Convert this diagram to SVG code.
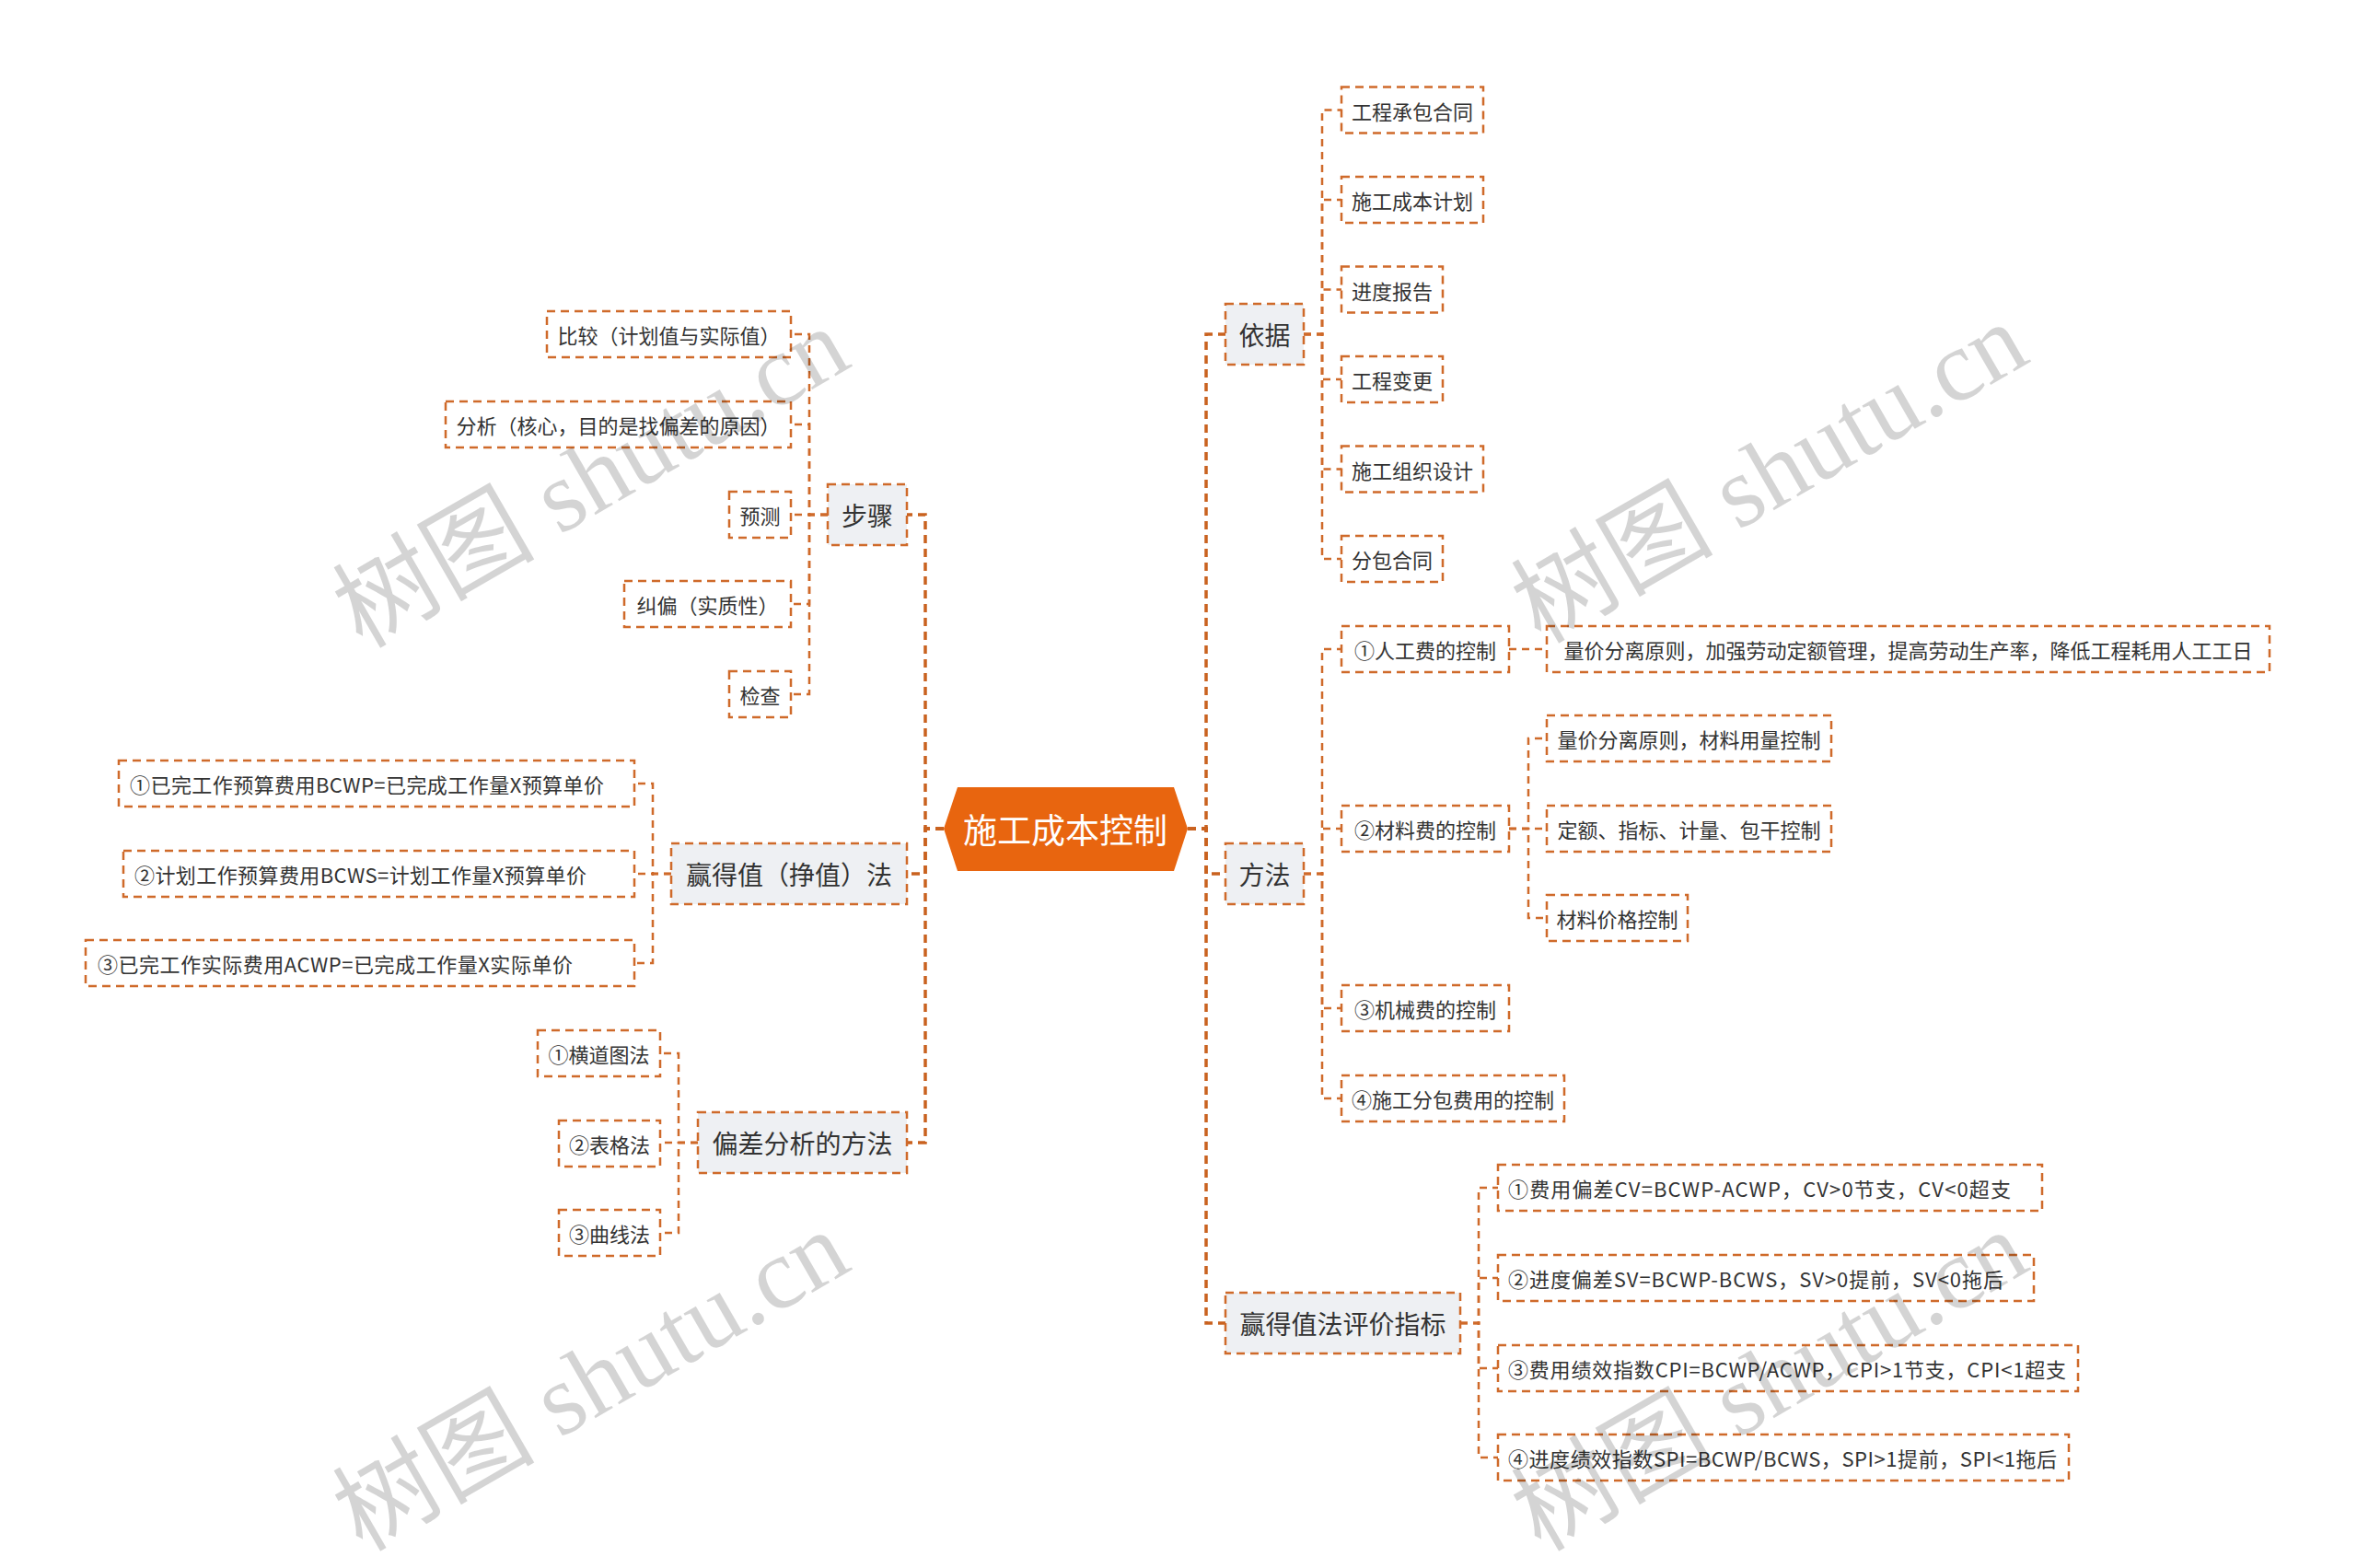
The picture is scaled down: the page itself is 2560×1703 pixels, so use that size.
<svg xmlns="http://www.w3.org/2000/svg" width="2560" height="1703" viewBox="0 0 2560 1703">
<style>
text{font-family:"Noto Sans CJK SC","Noto Sans",sans-serif;fill:#333333;text-anchor:middle;dominant-baseline:central}
text.f{text-anchor:start}
.l1 rect{fill:#EEF0F3;stroke:#CF6A2A;stroke-width:2.5;stroke-dasharray:9 6}
.l1 text{font-size:28px}
.l2 rect{fill:#FFFFFF;stroke:#CF6A2A;stroke-width:2.5;stroke-dasharray:9 6}
.l2 text{font-size:22px}
.conn path{fill:none;stroke:#CF6A2A;stroke-width:2.5;stroke-dasharray:8 6}
.conn path.main{stroke:#C9621F;stroke-width:3.5;stroke-dasharray:9 6}
.wm text{font-family:"Liberation Serif","Noto Sans CJK SC",serif;font-size:110px;fill:#000000;fill-opacity:0.17}
</style>
<rect width="2560" height="1703" fill="#FFFFFF"/>
<g id="connectors" class="conn">
<path class="main" d="M1025 900 H1005 V559 H985"/>
<path class="main" d="M1025 900 H1005 V949 H985"/>
<path class="main" d="M1025 900 H1005 V1241 H985"/>
<path class="main" d="M1290 900 H1310 V363 H1331"/>
<path class="main" d="M1290 900 H1310 V949 H1331"/>
<path class="main" d="M1290 900 H1310 V1437 H1331"/>
<path d="M899 559 H879 V363 H859"/>
<path d="M899 559 H879 V461 H859"/>
<path d="M899 559 H859"/>
<path d="M899 559 H879 V656 H859"/>
<path d="M899 559 H879 V754 H859"/>
<path d="M729 949 H709 V851 H689"/>
<path d="M729 949 H689"/>
<path d="M729 949 H709 V1046 H689"/>
<path d="M758 1241 H737 V1144 H717"/>
<path d="M758 1241 H717"/>
<path d="M758 1241 H737 V1339 H717"/>
<path d="M1416 363 H1436 V119.5 H1457"/>
<path d="M1416 363 H1436 V217 H1457"/>
<path d="M1416 363 H1436 V314.5 H1457"/>
<path d="M1416 363 H1436 V412 H1457"/>
<path d="M1416 363 H1436 V509.5 H1457"/>
<path d="M1416 363 H1436 V607 H1457"/>
<path d="M1416 949 H1436 V705 H1457"/>
<path d="M1416 949 H1436 V900 H1457"/>
<path d="M1416 949 H1436 V1095 H1457"/>
<path d="M1416 949 H1436 V1193 H1457"/>
<path d="M1639 705 H1680"/>
<path d="M1639 900 H1660 V802 H1680"/>
<path d="M1639 900 H1680"/>
<path d="M1639 900 H1660 V997 H1680"/>
<path d="M1586 1437 H1606 V1290 H1627"/>
<path d="M1586 1437 H1606 V1388 H1627"/>
<path d="M1586 1437 H1606 V1486 H1627"/>
<path d="M1586 1437 H1606 V1583 H1627"/>
</g>
<g id="root">
<polygon points="1025,900 1040,855 1275,855 1290,900 1275,946 1040,946" fill="#E8650F"/>
<text x="1157" y="900" style="font-size:37px;fill:#FFFFFF">施工成本控制</text>
</g>
<g id="n-buzhou" class="l1"><rect x="899" y="526" width="86" height="66"/><text x="942" y="559">步骤</text></g>
<g id="n-yingdezhi" class="l1"><rect x="729" y="916" width="256" height="66"/><text x="857" y="949">赢得值（挣值）法</text></g>
<g id="n-piancha" class="l1"><rect x="758" y="1208" width="227" height="66"/><text x="871.5" y="1241">偏差分析的方法</text></g>
<g id="n-yiju" class="l1"><rect x="1331" y="330" width="85" height="66"/><text x="1373.5" y="363">依据</text></g>
<g id="n-fangfa" class="l1"><rect x="1331" y="916" width="85" height="66"/><text x="1373.5" y="949">方法</text></g>
<g id="n-pingjia" class="l1"><rect x="1331" y="1404" width="255" height="66"/><text x="1458.5" y="1437">赢得值法评价指标</text></g>

<g id="n-bijiao" class="l2"><rect x="594" y="338" width="265" height="50"/><text x="726.5" y="363">比较（计划值与实际值）</text></g>
<g id="n-fenxi" class="l2"><rect x="484" y="436" width="375" height="50"/><text x="671.5" y="461">分析（核心，目的是找偏差的原因）</text></g>
<g id="n-yuce" class="l2"><rect x="792" y="534" width="67" height="50"/><text x="825.5" y="559">预测</text></g>
<g id="n-jiupian" class="l2"><rect x="678" y="631" width="181" height="50"/><text x="768.5" y="656">纠偏（实质性）</text></g>
<g id="n-jiancha" class="l2"><rect x="792" y="729" width="67" height="50"/><text x="825.5" y="754">检查</text></g>

<g id="n-bcwp" class="l2"><rect x="129" y="826" width="560" height="50"/><text class="f" x="141" y="851" textLength="515" lengthAdjust="spacing">①已完工作预算费用BCWP=已完成工作量X预算单价</text></g>
<g id="n-bcws" class="l2"><rect x="134" y="924" width="555" height="50"/><text class="f" x="146" y="949" textLength="491" lengthAdjust="spacing">②计划工作预算费用BCWS=计划工作量X预算单价</text></g>
<g id="n-acwp" class="l2"><rect x="93" y="1021" width="596" height="50"/><text class="f" x="106" y="1046" textLength="516" lengthAdjust="spacing">③已完工作实际费用ACWP=已完成工作量X实际单价</text></g>

<g id="n-hengdao" class="l2"><rect x="584" y="1119" width="133" height="50"/><text x="650.5" y="1144">①横道图法</text></g>
<g id="n-biaoge" class="l2"><rect x="607" y="1217" width="110" height="50"/><text x="662" y="1242">②表格法</text></g>
<g id="n-quxian" class="l2"><rect x="607" y="1314" width="110" height="50"/><text x="662" y="1339">③曲线法</text></g>

<g id="n-chengbao" class="l2"><rect x="1457" y="94.5" width="154" height="50"/><text x="1534" y="119.5">工程承包合同</text></g>
<g id="n-jihua" class="l2"><rect x="1457" y="192" width="154" height="50"/><text x="1534" y="217">施工成本计划</text></g>
<g id="n-jindu" class="l2"><rect x="1457" y="289.5" width="110" height="50"/><text x="1512" y="314.5">进度报告</text></g>
<g id="n-biangeng" class="l2"><rect x="1457" y="387" width="110" height="50"/><text x="1512" y="412">工程变更</text></g>
<g id="n-zuzhi" class="l2"><rect x="1457" y="484.5" width="154" height="50"/><text x="1534" y="509.5">施工组织设计</text></g>
<g id="n-fenbao" class="l2"><rect x="1457" y="582" width="110" height="50"/><text x="1512" y="607">分包合同</text></g>

<g id="n-rengong" class="l2"><rect x="1457" y="680" width="182" height="50"/><text x="1548" y="705">①人工费的控制</text></g>
<g id="n-cailiao" class="l2"><rect x="1457" y="875" width="182" height="50"/><text x="1548" y="900">②材料费的控制</text></g>
<g id="n-jixie" class="l2"><rect x="1457" y="1070" width="182" height="50"/><text x="1548" y="1095">③机械费的控制</text></g>
<g id="n-fenbaofei" class="l2"><rect x="1457" y="1168" width="242" height="50"/><text x="1578" y="1193">④施工分包费用的控制</text></g>

<g id="n-rengong-1" class="l2"><rect x="1680" y="680" width="785" height="50"/><text x="2072.5" y="705">量价分离原则，加强劳动定额管理，提高劳动生产率，降低工程耗用人工工日</text></g>
<g id="n-cailiao-1" class="l2"><rect x="1680" y="777" width="309" height="50"/><text x="1834.5" y="802">量价分离原则，材料用量控制</text></g>
<g id="n-cailiao-2" class="l2"><rect x="1680" y="875" width="309" height="50"/><text x="1834.5" y="900">定额、指标、计量、包干控制</text></g>
<g id="n-cailiao-3" class="l2"><rect x="1680" y="972" width="153" height="50"/><text x="1756.5" y="997">材料价格控制</text></g>

<g id="n-cv" class="l2"><rect x="1627" y="1265" width="591" height="50"/><text class="f" x="1638" y="1290" textLength="546" lengthAdjust="spacing">①费用偏差CV=BCWP-ACWP，CV&gt;0节支，CV&lt;0超支</text></g>
<g id="n-sv" class="l2"><rect x="1627" y="1363" width="582" height="50"/><text class="f" x="1638" y="1388" textLength="538" lengthAdjust="spacing">②进度偏差SV=BCWP-BCWS，SV&gt;0提前，SV&lt;0拖后</text></g>
<g id="n-cpi" class="l2"><rect x="1627" y="1461" width="630" height="50"/><text class="f" x="1638" y="1486" textLength="606" lengthAdjust="spacing">③费用绩效指数CPI=BCWP/ACWP，CPI&gt;1节支，CPI&lt;1超支</text></g>
<g id="n-spi" class="l2"><rect x="1627" y="1558" width="620" height="50"/><text class="f" x="1638" y="1583" textLength="596" lengthAdjust="spacing">④进度绩效指数SPI=BCWP/BCWS，SPI&gt;1提前，SPI&lt;1拖后</text></g>

<g id="watermarks" class="wm">
<text transform="translate(642,519) rotate(-30)">树图 shutu.cn</text>
<text transform="translate(1922,514) rotate(-30)">树图 shutu.cn</text>
<text transform="translate(642,1500) rotate(-30)">树图 shutu.cn</text>
<text transform="translate(1922,1500) rotate(-30)">树图 shutu.cn</text>
</g>
</svg>
